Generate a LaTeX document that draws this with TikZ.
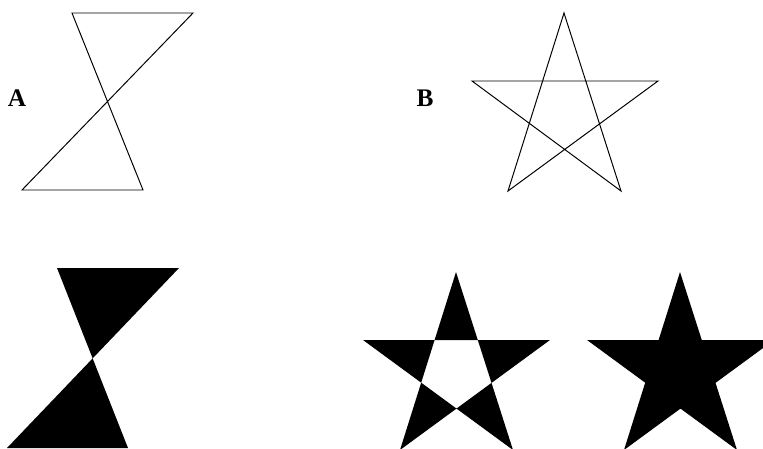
\documentclass[tikz,border=0pt]{standalone}
\usepackage{fontspec}
\setmainfont{Liberation Serif}
\usepackage{tikz}
\usetikzlibrary{positioning}
\tikzstyle{shapeline} = [draw=black, line width=0.7pt, line join=miter]
\tikzstyle{shapefill} = [fill=black, nonzero rule]
\tikzstyle{holefill}  = [fill=black, even odd rule]
\tikzstyle{letter}    = [font=\bfseries\fontsize{18}{20}\selectfont, inner sep=0pt]

\begin{document}
\begin{tikzpicture}[x=0.025cm, y=-0.025cm]
  \useasboundingbox (0,0) rectangle (763,448);
  \clip (0,0) rectangle (763,448);
  \node (labA) [letter] at (17,98) {A};
  \node (labB) [letter] at (425,98) {B};
  % outlines
  \draw [shapeline] (72,13) -- (193,13) -- (22,190) -- (143,190) -- cycle;
  \draw [shapeline] (564,13) -- (508,191) -- (658,81) -- (472,81) -- (621,191) -- cycle;
  % filled shapes
  \fill [shapefill] (57,268) -- (179,268) -- (7,448) -- (128,448) -- cycle;
  \fill [holefill]  (456,272) -- (400,450) -- (550,340) -- (363,340) -- (513,450) -- cycle;
  \fill [shapefill] (680,272) -- (624,450) -- (774,340) -- (587,340) -- (737,450) -- cycle;
\end{tikzpicture}
\end{document}
